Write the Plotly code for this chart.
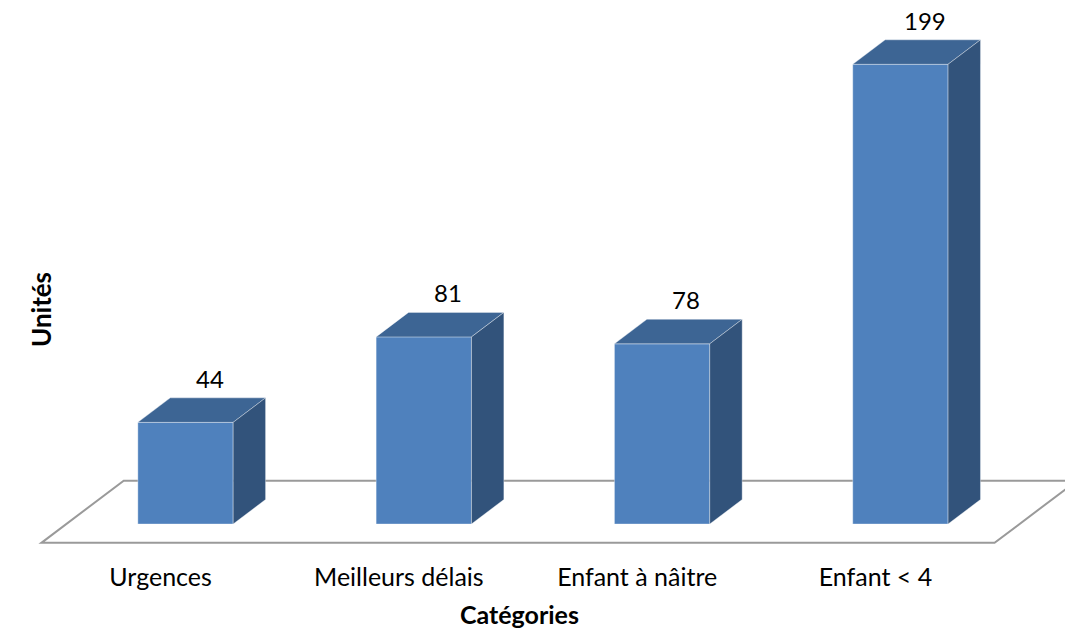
import plotly.graph_objects as go

categories = ['Urgences', 'Meilleurs délais', 'Enfant à nâitre', 'Enfant < 4']
values = [44, 81, 78, 199]

# pseudo 3D look, all in axis units
BAR_W = 0.40
DEPTH_X = 0.136
DEPTH_Y = 10.6
FLOOR_FRONT = -0.77   # floor edges, in bar-depth units
FLOOR_BACK = 1.77

FRONT = '#4F81BD'
TOP = '#3D6594'
SIDE = '#32537B'
EDGE = 'rgba(255,255,255,0.35)'
FONT = 'Lato'

fig = go.Figure()

xs = list(range(len(categories)))
for i, v in zip(xs, values):
    left, right = i - BAR_W / 2, i + BAR_W / 2
    # top face
    fig.add_trace(go.Scatter(
        x=[left, right, right + DEPTH_X, left + DEPTH_X, left],
        y=[v, v, v + DEPTH_Y, v + DEPTH_Y, v],
        mode='lines', fill='toself', fillcolor=TOP,
        line=dict(color=EDGE, width=1), hoverinfo='skip'))
    # side face
    fig.add_trace(go.Scatter(
        x=[right, right + DEPTH_X, right + DEPTH_X, right, right],
        y=[0, DEPTH_Y, v + DEPTH_Y, v, 0],
        mode='lines', fill='toself', fillcolor=SIDE,
        line=dict(color=EDGE, width=1), hoverinfo='skip'))

# front faces
fig.add_trace(go.Bar(x=xs, y=values, width=BAR_W,
                     marker=dict(color=FRONT, line=dict(color=EDGE, width=1))))

# value labels
for i, v in zip(xs, values):
    fig.add_annotation(x=i + 0.75 * DEPTH_X, y=v + DEPTH_Y, text=str(v),
                       showarrow=False, yanchor='bottom', yshift=3,
                       font=dict(family=FONT, size=24, color='black'))

# floor
n = len(categories)
fx0, fx1 = -0.5, n - 0.5
ff_x, ff_y = FLOOR_FRONT * DEPTH_X, FLOOR_FRONT * DEPTH_Y
fb_x, fb_y = FLOOR_BACK * DEPTH_X, FLOOR_BACK * DEPTH_Y
floor = (f'M {fx0 + ff_x},{ff_y} L {fx1 + ff_x},{ff_y} '
         f'L {fx1 + fb_x},{fb_y} L {fx0 + fb_x},{fb_y} Z')
fig.add_shape(type='path', path=floor, xref='x', yref='y', layer='below',
              line=dict(color='#9A9A9A', width=2))

px_x = 238.3   # px per category
px_y = 2.31    # px per unit
fig.update_xaxes(range=[-185.5 / px_x, (1065 - 185.5) / px_x],
                 tickvals=[i + ff_x for i in xs], ticktext=categories,
                 showgrid=False, zeroline=False, showline=False, ticks='',
                 ticklabelstandoff=5,
                 tickfont=dict(family=FONT, size=25, color='black'))
fig.update_yaxes(range=[-(555 - 524) / px_y, 524 / px_y], visible=False)

fig.add_annotation(text='<b>Unités</b>', xref='paper', yref='paper',
                   x=23 / 1065, y=(555 - 310) / 555, textangle=-90,
                   showarrow=False, font=dict(family=FONT, size=26, color='black'))
fig.add_annotation(text='<b>Catégories</b>', xref='paper', yref='paper',
                   x=519 / 1065, y=(555 - 614) / 555, yanchor='middle',
                   showarrow=False, font=dict(family=FONT, size=25, color='black'))

fig.update_layout(width=1065, height=629, showlegend=False,
                  margin=dict(l=0, r=0, t=0, b=629 - 555),
                  plot_bgcolor='white', paper_bgcolor='white')

fig.write_html('out.html', config={'displayModeBar': False},
               post_script="document.body.style.margin='0';")
